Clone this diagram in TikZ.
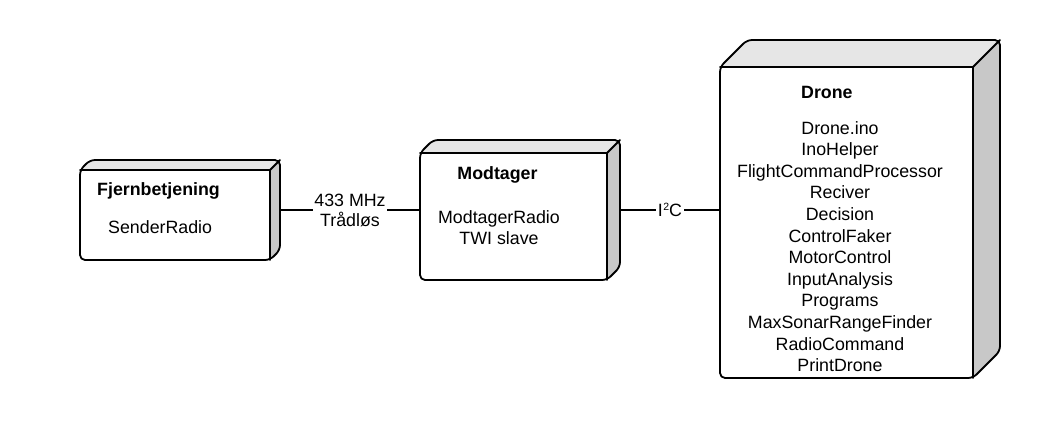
\documentclass[tikz,border=0pt]{standalone}
\usepackage{fontspec}
\setmainfont{Liberation Sans}
\definecolor{topgray}{HTML}{E6E6E6}
\definecolor{sidegray}{HTML}{C8C8C8}
% name, x1, y1, x2, y2, depth  (front face x1..x2, y1..y2)
\newcommand\cubebox[6]{%
  \node[inner sep=0pt, outer sep=0pt, minimum width={#4+#6-(#2)}, minimum height={#5-(#3)+#6}, anchor=north west] (#1) at (#2,#3-#6) {};
  \begin{scope}
    \clip[rounded corners=5pt] (#2,#5) -- (#2,#3) -- (#2+#6,#3-#6) -- (#4+#6,#3-#6) -- (#4+#6,#5-#6) -- (#4,#5) -- cycle;
    \fill[sidegray] (#2,#3-#6) rectangle (#4+#6,#5);
    \fill[topgray] (#2,#3) -- (#2+#6,#3-#6) -- (#4+#6,#3-#6) -- (#4,#3) -- cycle;
    \fill[white] (#2,#3) rectangle (#4,#5);
  \end{scope}
  \draw[outline] (#2,#5) -- (#2,#3) -- (#2+#6,#3-#6) -- (#4+#6,#3-#6) -- (#4+#6,#5-#6) -- (#4,#5) -- cycle;
  \draw[edge] (#2,#3) -- (#4,#3) -- (#4+#6,#3-#6);
  \draw[edge] (#4,#3) -- (#4,#5);
}
\begin{document}
\begin{tikzpicture}[x=1pt,y=-1pt,
  outline/.style={line width=1.8pt, line join=round, rounded corners=5pt},
  edge/.style={line width=1.8pt, line join=round, line cap=round},
  conn/.style={line width=1.8pt},
  txt/.style={inner sep=0pt, font=\fontsize{17.8}{21.6}\selectfont},
  lbl/.style={fill=white, inner sep=1.5pt, align=center, font=\fontsize{17.8}{20}\selectfont}]
\useasboundingbox[fill=white] (0,0) rectangle (1040,420);

\cubebox{fj}{80}{170}{270}{260}{10}
\cubebox{mod}{420}{153}{607}{280}{13}
\cubebox{drone}{720}{67}{973}{378}{27}

\draw[conn] (fj.east) -- node[lbl] (radio) {433 MHz\\Trådløs} (mod.west);
\draw[conn] (mod.east) -- node[lbl] (i2c) {I\kern0.5pt\raisebox{0.36em}{\fontsize{10.5}{10.5}\selectfont 2}C} (mod.east -| drone.west);

\node[txt, anchor=base west] (fjt) at (97,195) {\bfseries Fjernbetjening};
\node[txt, anchor=base west] (fjs) at (108,233.3) {SenderRadio};

\node[txt, anchor=base] (modt) at (497.5,179) {\bfseries Modtager};
\node[txt, anchor=base] (mods1) at (499,223.3) {ModtagerRadio};
\node[txt, anchor=base] (mods2) at (499,244.3) {TWI slave};

\node[txt, anchor=base west] (dronet) at (801,98.3) {\bfseries Drone};
\foreach \t [count=\i from 0] in {Drone.ino, InoHelper, FlightCommandProcessor, Reciver, Decision, ControlFaker, MotorControl, InputAnalysis, Programs, MaxSonarRangeFinder, RadioCommand, PrintDrone}
  \node[txt, anchor=base] (dl\i) at (840,134+21.6*\i) {\t};
\end{tikzpicture}
\end{document}
